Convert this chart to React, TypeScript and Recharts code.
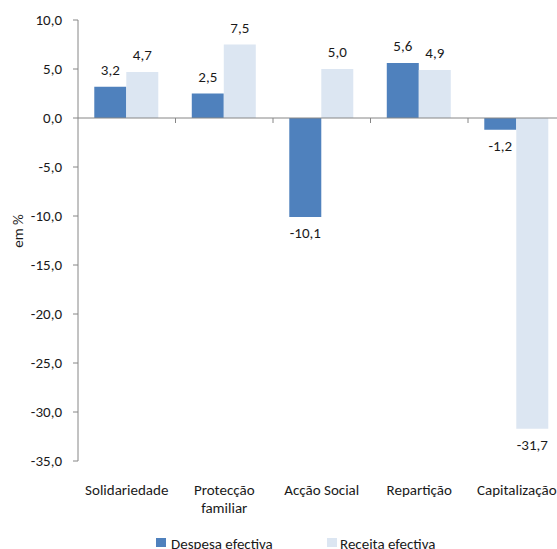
import React from 'react';
import { BarChart, Bar, XAxis, YAxis, ReferenceLine, LabelList } from 'recharts';

const categories = ['Solidariedade', 'Protecção\nfamiliar', 'Acção Social', 'Repartição', 'Capitalização'];
const despesa = [3.2, 2.5, -10.1, 5.6, -1.2];
const receita = [4.7, 7.5, 5.0, 4.9, -31.7];
const yTicks = [-35, -30, -25, -20, -15, -10, -5, 0, 5, 10];

const DARK = '#4F81BD';
const LIGHT = '#DCE6F2';
const AXIS = '#868686';
const FONT = 'Carlito, Calibri, "Open Sans", sans-serif';
const TXT = '#1a1a1a';
const FS = 15;

const data = categories.map((name, i) => ({ name, despesa: despesa[i], receita: receita[i] }));

const fmt = (v: number) => v.toFixed(1).replace('.', ',');

// value labels: above positive bars, below negative ones
const ValueLabel = (props: any) => {
  const { x, y, width, height, value } = props;
  const top = Math.min(y, y + height);
  const bottom = Math.max(y, y + height);
  const ly = value >= 0 ? top - 12 : bottom + 21;
  return (
    <text x={x + width / 2} y={ly} textAnchor="middle" fontSize={FS} fontFamily={FONT} fill={TXT}>
      {fmt(value)}
    </text>
  );
};

const CategoryTick = (props: any) => {
  const { x, y, payload } = props;
  const lines = String(payload.value).split('\n');
  return (
    <text x={x} y={y + 34} textAnchor="middle" fontSize={FS} fontFamily={FONT} fill={TXT}>
      {lines.map((l, i) => (
        <tspan key={i} x={x} dy={i === 0 ? 0 : 18}>{l}</tspan>
      ))}
    </text>
  );
};

// zero line with the category tick marks
const ZeroLine = (props: any) => {
  const { x1, x2, y1 } = props;
  const n = categories.length;
  const step = (x2 - x1) / n;
  return (
    <g>
      <line x1={x1} y1={y1} x2={x2} y2={y1} stroke={AXIS} strokeWidth={1} />
      {Array.from({ length: n }, (_, i) => (
        <line key={i} x1={x1 + (i + 1) * step} y1={y1} x2={x1 + (i + 1) * step} y2={y1 + 5} stroke={AXIS} />
      ))}
    </g>
  );
};

const YLabel = () => (
  <text x={23} y={231} transform="rotate(-90 23 231)" textAnchor="middle" fontSize={FS} fontFamily={FONT} fill={TXT}>
    em %
  </text>
);

const legendText: React.CSSProperties = {
  position: 'absolute', top: 536, fontFamily: FONT, fontSize: FS, color: TXT, whiteSpace: 'nowrap', lineHeight: '16px',
};

export default function App() {
  return (
    <div style={{ position: 'absolute', left: 0, top: 0, width: 557, height: 549, overflow: 'hidden', background: '#fff' }}>
      <BarChart
        width={620}
        height={570}
        data={data}
        margin={{ top: 20, right: 54.5, left: 0, bottom: 69 }}
        barCategoryGap="16.7%"
        barGap={0}
      >
        <XAxis
          dataKey="name"
          axisLine={false}
          tickLine={false}
          tickSize={0}
          tickMargin={0}
          height={40}
          interval={0}
          tick={<CategoryTick />}
        />
        <YAxis
          width={78}
          domain={[-35, 10]}
          ticks={yTicks}
          interval={0}
          tickFormatter={fmt}
          tickSize={5}
          tickMargin={11}
          axisLine={{ stroke: AXIS }}
          tickLine={{ stroke: AXIS }}
          tick={{ fontSize: FS, fontFamily: FONT, fill: TXT }}
          label={<YLabel />}
        />
        <Bar dataKey="despesa" fill={DARK} isAnimationActive={false}>
          <LabelList dataKey="despesa" content={<ValueLabel />} />
        </Bar>
        <Bar dataKey="receita" fill={LIGHT} isAnimationActive={false}>
          <LabelList dataKey="receita" content={<ValueLabel />} />
        </Bar>
        <ReferenceLine y={0} shape={<ZeroLine />} />
      </BarChart>
      <div style={{ position: 'absolute', left: 156, top: 538, width: 10, height: 9, background: DARK }} />
      <div style={{ ...legendText, left: 171 }}>Despesa efectiva</div>
      <div style={{ position: 'absolute', left: 327, top: 538, width: 10, height: 9, background: LIGHT }} />
      <div style={{ ...legendText, left: 340 }}>Receita efectiva</div>
    </div>
  );
}
